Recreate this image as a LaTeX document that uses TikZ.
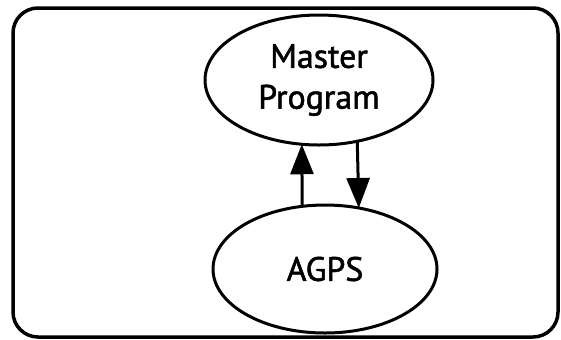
\documentclass[tikz,border=0pt]{standalone}
\usepackage{fontspec}
\setmainfont[FakeBold=1.6]{PT Sans}
\usetikzlibrary{shapes.geometric,arrows.meta}
\begin{document}
\begin{tikzpicture}[x=1bp,y=-1bp,
  oval/.style={ellipse,draw,line width=3bp,inner sep=0pt,outer sep=0pt,
    align=center,font=\fontsize{34}{41}\selectfont},
  flow/.style={line width=3bp,-{Triangle[length=30bp,width=23bp]}}]
  \useasboundingbox (0,0) rectangle (561,339);
  % outer frame
  \draw[line width=3.5bp,rounded corners=25bp] (13,8) rectangle (558,337);
  % the two processes
  \node[oval,minimum width=228bp,minimum height=130bp] (master) at (319,80) {Master\\Program};
  \node[oval,minimum width=224bp,minimum height=128bp] (agps) at (325,269) {AGPS};
  % requests and replies
  \draw[flow] (agps.110.2) -- (master.255.2);
  \draw[flow] (master.302.5) -- (agps.61.7);
\end{tikzpicture}
\end{document}
